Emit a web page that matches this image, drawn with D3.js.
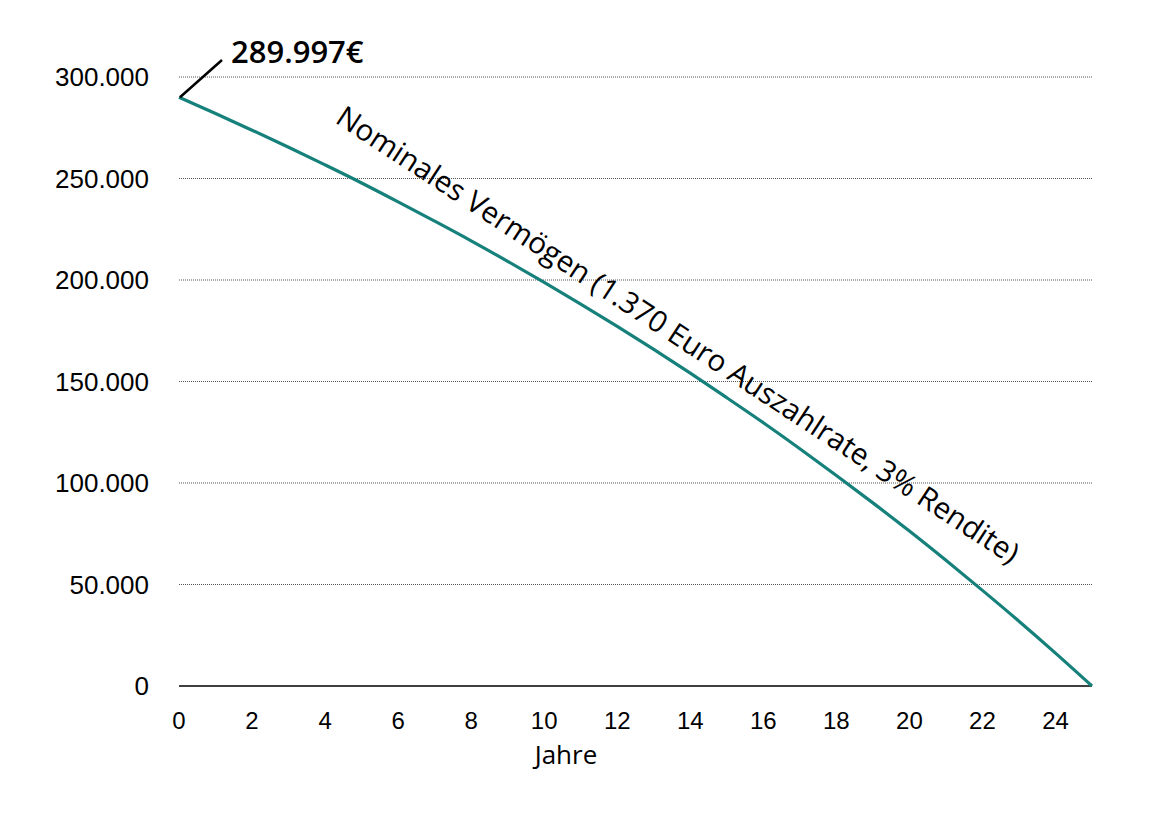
<!DOCTYPE html>
<html><head><meta charset="utf-8">
<script src="https://cdn.jsdelivr.net/npm/d3@7"></script>
<style>body{margin:0;background:#fff}</style>
</head><body>
<svg id="c" width="1169" height="827"></svg>
<script>
const years = [0,1,2,3,4,5,6,7,8,9,10,11,12,13,14,15,16,17,18,19,20,21,22,23,24,25];
const vermoegen = [289997,282000,273800,265400,256700,247800,238500,229000,219300,209200,198800,188100,177100,165800,154100,142000,129700,116900,103700,90200,76300,61900,47100,31900,16200,0];
const yTicks = [0,50000,100000,150000,200000,250000,300000];
const xTicks = [0,2,4,6,8,10,12,14,16,18,20,22,24];
const lineLabel = "Nominales Vermögen (1.370 Euro Auszahlrate, 3% Rendite)";
const startLabel = "289.997€";
const xTitle = "Jahre";

const svg = d3.select("#c");
const x = d3.scaleLinear().domain([0,25]).range([179,1092]);
const y = d3.scaleLinear().domain([0,300000]).range([686,77]);
const fmt = v => d3.format(",")(v).replace(/,/g,".");

// grid
svg.append("g").selectAll("line").data(yTicks.filter(d=>d>0)).join("line")
  .attr("x1",x(0)).attr("x2",x(25)).attr("y1",d=>y(d)).attr("y2",d=>y(d))
  .attr("stroke","#555").attr("stroke-width",1).attr("stroke-dasharray","1,1");
// baseline
svg.append("line").attr("x1",x(0)).attr("x2",x(25)).attr("y1",y(0)).attr("y2",y(0))
  .attr("stroke","#000").attr("stroke-width",1.3);

// y ticks
svg.append("g").selectAll("text").data(yTicks).join("text")
  .attr("x",149).attr("y",d=>y(d)+9).attr("text-anchor","end")
  .attr("font-family","Liberation Sans, Arial, sans-serif").attr("font-size",26).attr("fill","#000")
  .text(d=>fmt(d));
// x ticks
svg.append("g").selectAll("text").data(xTicks).join("text")
  .attr("x",d=>x(d)).attr("y",729).attr("text-anchor","middle")
  .attr("font-family","Liberation Sans, Arial, sans-serif").attr("font-size",24).attr("fill","#000")
  .text(d=>d);
svg.append("text").attr("x",566).attr("y",764).attr("text-anchor","middle")
  .attr("font-family","Open Sans, sans-serif").attr("font-size",26).attr("fill","#000").text(xTitle);

// line
const line = d3.line().x((d,i)=>x(years[i])).y(d=>y(d)).curve(d3.curveMonotoneX);
svg.append("path").datum(vermoegen).attr("d",line).attr("fill","none")
  .attr("stroke","#16807b").attr("stroke-width",3.2);

// start annotation
svg.append("line").attr("x1",x(0)+1).attr("y1",y(vermoegen[0])).attr("x2",222).attr("y2",60)
  .attr("stroke","#000").attr("stroke-width",2.5);
svg.append("text").attr("x",231).attr("y",63)
  .attr("font-family","Open Sans, sans-serif").attr("font-size",31).attr("font-weight",600).attr("fill","#000")
  .text(startLabel);

// rotated label
svg.append("text").attr("transform","translate(334,122) rotate(33.2)")
  .attr("font-family","Open Sans, sans-serif").attr("font-size",29.5).attr("fill","#000")
  .text(lineLabel);
</script>
</body></html>
